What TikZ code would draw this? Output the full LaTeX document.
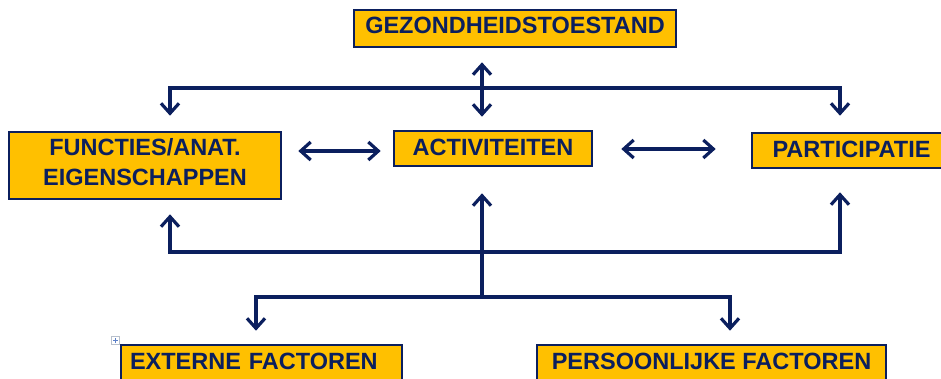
\documentclass[tikz,border=0pt]{standalone}
\usepackage{fontspec}
\setmainfont{Liberation Sans}
\usetikzlibrary{arrows.meta}
\definecolor{navy}{HTML}{0B1F5E}
\definecolor{gold}{HTML}{FFC000}
\definecolor{handlegrey}{HTML}{B8C0CC}
\definecolor{handleblue}{HTML}{5A7FC8}
\tikzset{
  box/.style={draw=navy, fill=gold, line width=2.6pt, rectangle,
    text=navy, font=\fontsize{23.5}{30}\selectfont\bfseries,
    text height=17pt, text depth=4pt, inner xsep=0pt, inner ysep=0pt,
    align=center},
  link/.style={draw=navy, line width=3.2pt},
  onearrow/.style={link, -{Straight Barb[length=10pt,width=18pt]}},
  twoarrow/.style={link, {Straight Barb[length=10pt,width=18pt]}-{Straight Barb[length=10pt,width=18pt]}},
}
\begin{document}
\begin{tikzpicture}[x=1pt,y=-1pt]
\useasboundingbox (0,0) rectangle (941,378);

% boxes
\node[box, minimum width=322pt, minimum height=37pt, text depth=8pt] (gez) at (515,28.5) {GEZONDHEIDSTOESTAND};
\node[box, minimum width=272pt, minimum height=67pt, text height=47pt, text depth=8pt] (fun) at (145,165.5) {FUNCTIES/ANAT.\\EIGENSCHAPPEN};
\node[box, minimum width=198pt, minimum height=35pt] (act) at (493,148.5) {ACTIVITEITEN};
\node[box, minimum width=199pt, minimum height=35pt] (par) at (851.5,150.5) {PARTICIPATIE};
\node[box, minimum width=281pt, minimum height=36pt, text width=263pt, align=left] (ext) at (261.5,363) {EXTERNE FACTOREN};
\node[box, minimum width=349pt, minimum height=36pt] (per) at (711.5,363) {PERSOONLIJKE FACTOREN};

% small table handle
\node[draw=handlegrey, fill=white, line width=0.6pt, minimum size=8pt, inner sep=0pt] (handle) at (115.5,340.5) {};
\draw[handleblue, line width=0.8pt] ([xshift=-2.5pt]handle.center) -- ([xshift=2.5pt]handle.center)
  ([yshift=-2.5pt]handle.center) -- ([yshift=2.5pt]handle.center);

% junction points
\coordinate (hub) at (482,88);
\coordinate (tl) at (170,88);
\coordinate (tr) at (840,88);
\coordinate (bl) at (170,252);
\coordinate (br) at (840,252);
\coordinate (mid) at (482,252);
\coordinate (hb) at (482,297);
\coordinate (fl) at (256,297);
\coordinate (fr) at (730,297);
\coordinate (la) at (0,151);
\coordinate (ra) at (0,149);

% upper distribution
\draw[twoarrow, shorten <=14pt, shorten >=13pt] (gez.south -| hub) -- (act.north -| hub);
\draw[onearrow, shorten >=15pt] (hub) -- (tl) -- (fun.north -| tl);
\draw[onearrow, shorten >=16pt] (hub) -- (tr) -- (par.north -| tr);

% horizontal links
\draw[twoarrow, shorten <=16pt, shorten >=12pt] (fun.east |- la) -- (act.west |- la);
\draw[twoarrow, shorten <=28pt, shorten >=35pt] (act.east |- ra) -- (par.west |- ra);

% lower feedback
\draw[onearrow, shorten >=14pt] (mid) -- (bl) -- (fun.south -| bl);
\draw[onearrow, shorten >=23pt] (mid) -- (br) -- (par.south -| br);
\draw[onearrow, shorten >=26pt] (hb) -- (act.south -| hb);
\draw[onearrow, shorten >=13pt] (hb) -- (fl) -- (ext.north -| fl);
\draw[onearrow, shorten >=13pt] (hb) -- (fr) -- (per.north -| fr);
\end{tikzpicture}
\end{document}
